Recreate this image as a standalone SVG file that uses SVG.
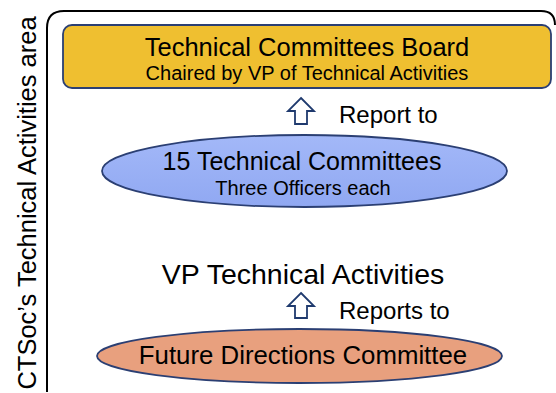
<svg xmlns="http://www.w3.org/2000/svg" width="556" height="393" viewBox="0 0 556 393">
<defs>
<linearGradient id="gb" x1="0" y1="0" x2="0" y2="1"><stop offset="0" stop-color="#A3B8F8"/><stop offset="1" stop-color="#90A8F2"/></linearGradient>
</defs>
<style>
text{font-family:"Liberation Sans",Arial,sans-serif;fill:#000}
.big{font-size:25.5px}
.sm{font-size:20px}
.lbl{font-size:24px}
.arr{fill:#fff;stroke:#1F3A6E;stroke-width:1.8;stroke-linejoin:miter}
.nodeline{stroke:#2B3F73;stroke-width:1.8}
</style>
<rect width="556" height="393" fill="#fff"/>
<g id="frame">
<path d="M47,392 V28 Q47,11 64,11 H541 Q555,11 555,25" fill="none" stroke="#000" stroke-width="2"/>
<text transform="translate(36,203) rotate(-90)" text-anchor="middle" style="font-size:25.5px">CTSoc’s Technical Activities area</text>
</g>
<g id="board">
<rect x="63" y="25" width="488" height="63" rx="9" fill="#EFBF30" class="nodeline"/>
<text class="big" x="307" y="56" text-anchor="middle">Technical Committees Board</text>
<text class="sm" x="307" y="80" text-anchor="middle">Chaired by VP of Technical Activities</text>
</g>
<g id="committees">
<ellipse cx="304.5" cy="171" rx="202.5" ry="36" fill="url(#gb)" class="nodeline"/>
<text x="302" y="170" text-anchor="middle" style="font-size:25px">15 Technical Committees</text>
<text class="sm" x="303" y="195" text-anchor="middle">Three Officers each</text>
</g>
<g id="vp">
<text x="303" y="284" text-anchor="middle" style="font-size:28.5px">VP Technical Activities</text>
</g>
<g id="future">
<ellipse cx="299.5" cy="356" rx="202.5" ry="27" fill="#E8A07E" class="nodeline"/>
<text x="303" y="364" text-anchor="middle" style="font-size:25.8px">Future Directions Committee</text>
</g>
<g id="connectors">
<path class="arr" d="M301,98 L314,111 H307 V124 H295 V111 H288 Z"/>
<text class="lbl" x="339" y="123">Report to</text>
<path class="arr" d="M301,293 L314,306 H307 V318 H295 V306 H288 Z"/>
<text class="lbl" x="339" y="319">Reports to</text>
</g>
</svg>
